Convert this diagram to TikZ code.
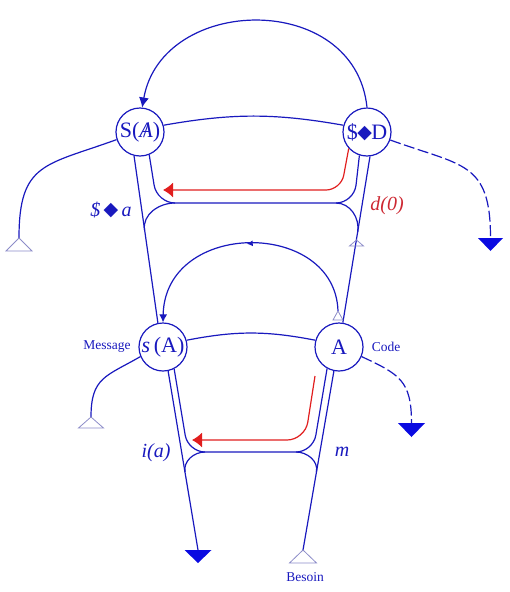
\documentclass[tikz,border=0pt]{standalone}
\usepackage{fontspec}
\setmainfont{Liberation Serif}
\newfontfamily\symfont{DejaVu Sans}
\usetikzlibrary{arrows.meta,decorations.markings}
\definecolor{lb}{RGB}{25,25,190}
\definecolor{fb}{RGB}{10,10,225}
\definecolor{rd}{RGB}{225,30,30}
\definecolor{rdt}{RGB}{205,40,50}
\definecolor{tg}{RGB}{140,140,200}
\newcommand{\htri}[3]{\draw[tri,shift={(#1)}] (-#2,-#3) -- (0,0) -- (#2,-#3) -- cycle;}
\newcommand{\ftri}[3]{\fill[fb,shift={(#1)}] (-#2,0) -- (0,-#3) -- (#2,0) -- cycle;}
\newcommand{\dmd}{{\symfont\fontsize{19}{19}\selectfont\raisebox{0.5pt}{◆}}}
\begin{document}
\begin{tikzpicture}[x=1pt,y=1pt,line width=1.2pt,
  circ/.style={circle,draw=lb,minimum size=48pt,inner sep=0pt,text=lb,font=\fontsize{22}{22}\selectfont},
  ln/.style={draw=lb,line width=1.2pt},
  dsh/.style={dash pattern=on 11pt off 3.5pt},
  redarr/.style={draw=rd,line width=1.2pt,-{Latex[length=10pt,width=15pt]}},
  tri/.style={draw=tg,line width=0.8pt},
  lab/.style={text=lb,font=\fontsize{20}{20}\selectfont\itshape},
  small/.style={text=lb,font=\fontsize{13.5}{13.5}\selectfont}]
\useasboundingbox (0,0) rectangle (510,-592);

% nodes
\node[circ] (SA) at (140,-132) {S(\ooalign{\itshape A\cr\hidewidth/\hidewidth\cr})};
\node[circ] (SD) at (367,-132) {\$\kern-0.5pt\dmd\kern-0.5pt D};
\node[circ] (sA) at (163,-347) {\textit{s}\,(A)};
\node[circ] (A) at (339,-347) {A};

% coordinates
\coordinate (t1) at (19,-238);
\coordinate (t2) at (91,-417);
\coordinate (t3) at (303,-550);
\coordinate (t4) at (356.5,-240);
\coordinate (t5) at (338,-311);
\coordinate (f1) at (490.5,-238);
\coordinate (f2) at (411.5,-423);
\coordinate (f3) at (198,-550);
\coordinate (c1) at (157,-203);
\coordinate (c2) at (354,-203);
\coordinate (u1) at (175,-203);
\coordinate (u2) at (336,-203);
\coordinate (u1b) at (144.5,-230);
\coordinate (u2b) at (357.7,-232);
\coordinate (c3) at (188,-452);
\coordinate (c4) at (313,-452);
\coordinate (l1) at (205,-452);
\coordinate (l2) at (296,-452);
\coordinate (l1b) at (185,-472);
\coordinate (l2b) at (316.5,-472);
\coordinate (r1c) at (341,-190);
\coordinate (r1) at (163,-190);
\coordinate (r2s) at (315,-376);
\coordinate (r2c) at (305,-440);
\coordinate (r2) at (192,-440);

% arcs between circles
\draw[ln] (SA.16) to[bend left=10] (SD.164);
\draw[ln] (sA.16) to[bend left=11] (A.164);

% big arcs
\draw[ln,-{Latex[length=10pt,width=10pt]}] (SD.north) .. controls +(-12,117) and +(20,113) .. (SA.85);
\draw[ln,-{Latex[length=8pt,width=8pt]},
  decoration={markings,mark=at position 0.5 with {\arrow{Latex[length=6pt,width=6pt]}}},
  postaction={decorate}] (t5) .. controls +(-3,92) and +(2,103) .. (sA.north);

% long lines
\draw[ln] (SA.256) -- (sA.102);
\draw[ln] (SD.277) -- (A.81);
\draw[ln] (sA.282) -- (f3);
\draw[ln] (t3) -- (A.258);

% U shapes
\draw[ln,rounded corners=18pt] (SA.292) -- (c1) -- (c2) -- (SD.252);
\draw[ln,rounded corners=17pt] (sA.297) -- (c3) -- (c4) -- (A.241);

% lower curves
\draw[ln] (u1) to[out=180,in=98] (u1b);
\draw[ln] (u2) to[out=0,in=81] (u2b);
\draw[ln] (l1) to[out=180,in=99.5] (l1b);
\draw[ln] (l2) to[out=0,in=80] (l2b);

% red arrows
\draw[redarr,rounded corners=15pt] (SD.222) -- (r1c) -- (r1);
\draw[redarr,rounded corners=18pt] (r2s) -- (r2c) -- (r2);

% branches
\draw[ln] (SA.198) to[out=200,in=90,looseness=1.4] (t1);
\draw[ln,dsh] (SD.-19) to[out=-20,in=90,looseness=1.4] (f1);
\draw[ln] (sA.203) to[out=210,in=90,looseness=1.3] (t2);
\draw[ln,dsh] (A.-23) to[out=-25,in=90,looseness=1.3] (f2);

% triangles
\htri{t1}{13}{13}
\htri{t2}{12.5}{11}
\htri{t3}{13.5}{13}
\htri{t4}{7}{6}
\htri{t5}{5}{9}
\ftri{f1}{12.5}{13}
\ftri{f2}{13.5}{14}
\ftri{f3}{13.5}{13}

% labels
\node[lab] (la) at (111,-210) {\$\,\dmd\,a};
\node[lab,text=rdt] (d0) at (387,-206) {d(0)};
\node[lab] (ia) at (156,-453) {i(a)};
\node[lab] (mm) at (342,-452) {m};
\node[small] (msg) at (107,-347) {Message};
\node[small] (code) at (386,-347) {Code};
\node[small] (bes) at (305,-577) {Besoin};
\end{tikzpicture}
\end{document}
